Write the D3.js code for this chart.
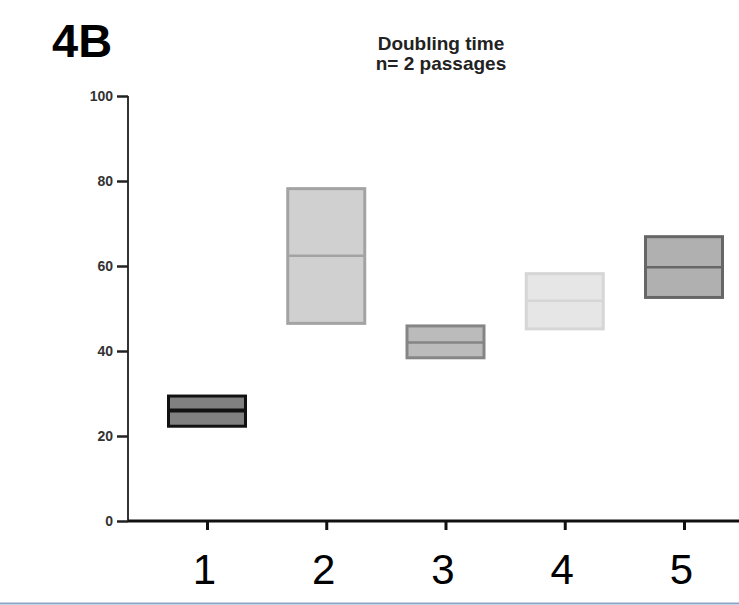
<!DOCTYPE html>
<html>
<head>
<meta charset="utf-8">
<script src="https://cdn.jsdelivr.net/npm/d3@7"></script>
<style>
  html, body { margin: 0; padding: 0; background: #fff; }
  svg { display: block; }
</style>
</head>
<body>
<svg id="chart" width="739" height="605"></svg>
<script>
// ---- data ----
const categories = ["1", "2", "3", "4", "5"];
const lowValues    = [22.3, 46.5, 38.4, 45.2, 52.6];
const highValues   = [29.4, 78.2, 45.9, 58.2, 66.9];
const medianValues = [26.0, 62.4, 42.0, 51.8, 59.7];
const fillColors   = ["#808080", "#d0d0d0", "#bbbbbb", "#e6e6e6", "#b0b0b0"];
const strokeColors = ["#111111", "#a3a3a3", "#858585", "#d6d6d6", "#666666"];
const yTickValues  = [0, 20, 40, 60, 80, 100];
const titleLines   = ["Doubling time", "n= 2 passages"];
const panelLabel   = "4B";

const svg = d3.select("#chart");
const x = d3.scalePoint().domain(categories).range([207, 684]);
const y = d3.scaleLinear().domain([0, 100]).range([521, 96]);
const boxW = 77;

// panel label
svg.append("text").attr("x", 52).attr("y", 57)
  .attr("font-family", "Liberation Sans, Arial, sans-serif")
  .attr("font-weight", "bold").attr("font-size", 47).attr("fill", "#000")
  .text(panelLabel);

// title
svg.append("g").selectAll("text").data(titleLines).join("text")
  .attr("x", 441).attr("y", (d, i) => 50 + i * 20)
  .attr("text-anchor", "middle")
  .attr("font-family", "Liberation Sans, Arial, sans-serif")
  .attr("font-weight", "bold")
  .attr("font-size", 19).attr("fill", "#222")
  .text(d => d);

// y axis
const yAxis = d3.axisLeft(y).tickValues(yTickValues).tickSize(11).tickPadding(4);
const gy = svg.append("g").attr("transform", "translate(128,0)").call(yAxis);
gy.select(".domain").attr("stroke", "#333").attr("stroke-width", 2)
  .attr("d", `M0,${y(0)}V${y(100)}`);
gy.selectAll(".tick line").attr("stroke", "#222").attr("stroke-width", 2.5);
gy.selectAll(".tick text").attr("font-family", "Liberation Sans, Arial, sans-serif")
  .attr("font-weight", "bold").attr("font-size", 14).attr("fill", "#333");

// x axis
const xAxis = d3.axisBottom(x).tickSize(9).tickPadding(24);
const gx = svg.append("g").attr("transform", `translate(0,${y(0)})`).call(xAxis);
gx.select(".domain").attr("stroke", "#111").attr("stroke-width", 3)
  .attr("d", "M128,0H739");
gx.selectAll(".tick line").attr("stroke", "#111").attr("stroke-width", 3);
gx.selectAll(".tick text").attr("font-family", "Liberation Sans, Arial, sans-serif")
  .attr("font-size", 42).attr("fill", "#000").attr("dx", -3);

// boxes
const data = categories.map((c, i) => ({
  c, lo: lowValues[i], hi: highValues[i], med: medianValues[i],
  fill: fillColors[i], stroke: strokeColors[i]
}));
const gb = svg.append("g");
gb.selectAll("rect").data(data).join("rect")
  .attr("x", d => x(d.c) - boxW / 2)
  .attr("width", boxW)
  .attr("y", d => y(d.hi))
  .attr("height", d => y(d.lo) - y(d.hi))
  .attr("fill", d => d.fill)
  .attr("stroke", d => d.stroke)
  .attr("stroke-width", 3);
gb.selectAll("line").data(data).join("line")
  .attr("x1", d => x(d.c) - boxW / 2)
  .attr("x2", d => x(d.c) + boxW / 2)
  .attr("y1", d => y(d.med)).attr("y2", d => y(d.med))
  .attr("stroke", d => d.stroke)
  .attr("stroke-width", (d, i) => i === 0 ? 4 : 2.5);

// bottom border line
svg.append("line").attr("x1", 0).attr("x2", 739).attr("y1", 603.5).attr("y2", 603.5)
  .attr("stroke", "#8aa6c6").attr("stroke-width", 2);
</script>
</body>
</html>
